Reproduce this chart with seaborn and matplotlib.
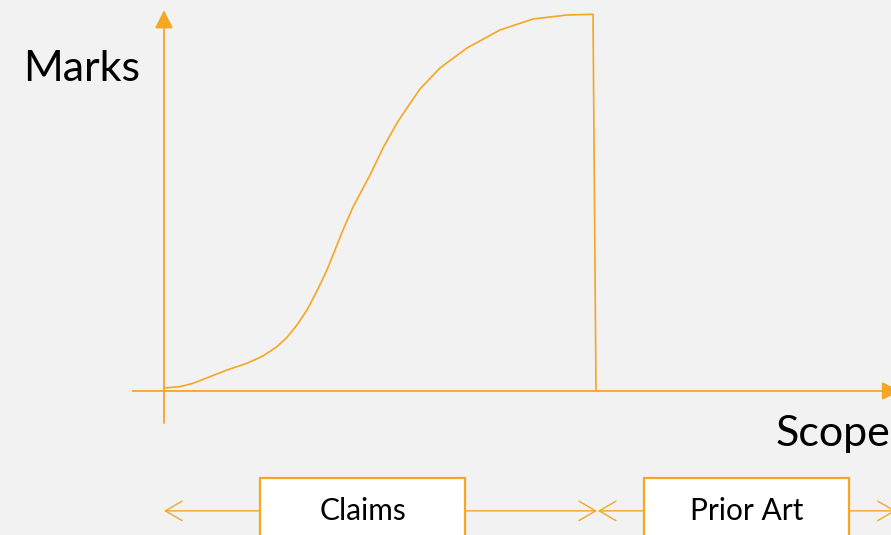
import matplotlib
matplotlib.use("Agg")
import matplotlib.pyplot as plt
import seaborn as sns
import pandas as pd

# ---- data (chart units: scope 0..100, marks 0..100) ----
scope = [0.0, 3.70, 6.70, 10.62, 14.55, 19.17, 22.86, 26.10, 28.41, 30.72,
         33.03, 35.33, 37.64, 39.49, 41.34, 43.65, 47.58, 50.58, 53.81, 56.12,
         59.12, 63.74, 69.98, 77.60, 85.22, 93.07, 99.08, 99.77]
marks = [0.8, 1.14, 2.04, 3.79, 5.57, 7.35, 9.28, 11.75, 14.24, 17.51,
         21.49, 26.53, 32.10, 37.40, 42.71, 48.81, 57.29, 64.46, 71.09, 75.07,
         80.11, 85.68, 90.98, 95.76, 98.67, 99.73, 99.92, 0.0]
box_labels = ["Claims", "Prior Art"]
y_label = "Marks"
x_label = "Scope"

ORANGE = "#F5A623"
BG = "#F2F2F2"

sns.set_theme(style="white", rc={"axes.facecolor": BG, "figure.facecolor": BG})
plt.rcParams["font.family"] = ["Lato", "DejaVu Sans"]

fig = plt.figure(figsize=(8.91, 5.35), dpi=100)
ax = fig.add_axes([0, 0, 1, 1])
ax.set_xlim(-37.875, 167.9)
ax.set_ylim(-38.2, 103.71)
ax.axis("off")

df = pd.DataFrame({"scope": scope, "marks": marks})
sns.lineplot(data=df, x="scope", y="marks", sort=False, estimator=None,
             color=ORANGE, lw=1.2, ax=ax)

# axes with arrows
ax.annotate("", xy=(0, 101.0), xytext=(0, -8.5), annotation_clip=False,
            arrowprops=dict(arrowstyle="-|>,head_length=11,head_width=5.5",
                            mutation_scale=1, color=ORANGE, lw=1.3,
                            shrinkA=0, shrinkB=0))
ax.annotate("", xy=(170, 0), xytext=(-7.2, 0), annotation_clip=False,
            arrowprops=dict(arrowstyle="-|>,head_length=11,head_width=5.5",
                            mutation_scale=1, color=ORANGE, lw=1.3,
                            shrinkA=0, shrinkB=0))

ax.text(-19, 85.5, y_label, fontsize=31, ha="center", va="center", color="black")
ax.text(154.5, -11.4, x_label, fontsize=31, ha="center", va="center", color="black")

# boxes with arrows
row_y = -31.8
boxes = [(22.2, 69.5), (110.9, 158.2)]
arrow_ends = [(0, 100.0), (100.2, 169.0)]
for (x0, x1), (a0, a1), lab in zip(boxes, arrow_ends, box_labels):
    ax.add_patch(plt.Rectangle((x0, -45), x1 - x0, 45 - 23.1,
                               facecolor="white", edgecolor=ORANGE, lw=1.6))
    ax.text((x0 + x1) / 2, row_y, lab, fontsize=21.5, ha="center", va="center",
            color="black")
    for start, end in [(x0, a0), (x1, a1)]:
        ax.annotate("", xy=(end, row_y), xytext=(start, row_y),
                    annotation_clip=False,
                    arrowprops=dict(arrowstyle="->,head_length=12,head_width=7",
                                    mutation_scale=1, color=ORANGE, lw=1.0,
                                    shrinkA=0, shrinkB=0))

fig.savefig("out.png", dpi=100, facecolor=BG)
